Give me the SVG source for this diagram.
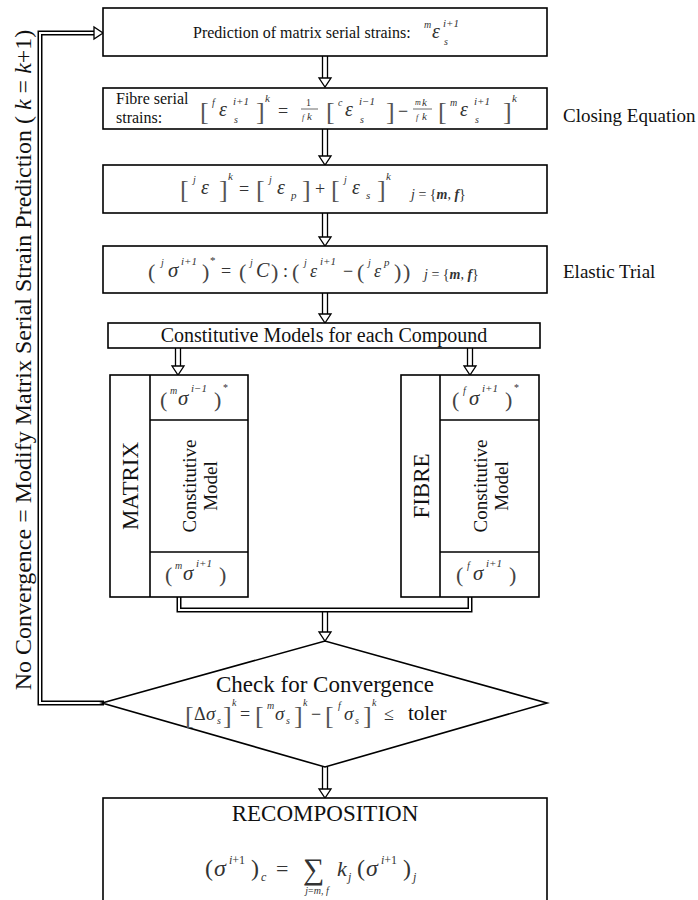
<svg xmlns="http://www.w3.org/2000/svg" width="698" height="900" viewBox="0 0 698 900">
<style>
.bx{fill:#fff;stroke:#000;stroke-width:1.6}
.t{font-family:"Liberation Serif","Times New Roman",serif;fill:#111}
.m{font-family:"Liberation Serif","Times New Roman",serif;fill:#333;font-style:italic}
.br{font-size:26px;font-style:normal;fill:#555}
.pr{font-size:22px;font-style:normal;fill:#444}
.v{font-size:20px}
.sp{font-size:11px}
.ps{font-size:10px}
.op{font-size:18px;font-style:normal}
.bi{font-weight:bold;font-style:italic}
.n{font-style:normal}
.dl1{fill:none;stroke:#000;stroke-width:5}
.dl2{fill:none;stroke:#fff;stroke-width:2}
.sh{stroke:#000;stroke-width:1.3;fill:none}
.hd{fill:#fff;stroke:#000;stroke-width:1.3;stroke-linejoin:miter}
.fl{stroke:#444;stroke-width:0.8}
</style>
<defs>
<path id="hd" class="hd" d="M-6,-9 L6,-9 L0,0 Z"/>
<path id="hr" class="hd" d="M-9,-6 L-9,6 L0,0 Z"/>
</defs>

<g id="connectors">
<path class="dl1" d="M104,703 H40 V33 H94"/>
<path class="dl2" d="M104,703 H40 V33 H94"/>
<use href="#hr" x="103" y="33"/>
<path class="sh" d="M322.5,56 V78 M327.5,56 V78"/><use href="#hd" x="325" y="87"/>
<path class="sh" d="M322.5,129 V156 M327.5,129 V156"/><use href="#hd" x="325" y="165"/>
<path class="sh" d="M322.5,213 V237 M327.5,213 V237"/><use href="#hd" x="325" y="246"/>
<path class="sh" d="M322.5,293 V314 M327.5,293 V314"/><use href="#hd" x="325" y="323"/>
<path class="sh" d="M175.5,348 V366 M180.5,348 V366"/><use href="#hd" x="178" y="375"/>
<path class="sh" d="M467.5,348 V366 M472.5,348 V366"/><use href="#hd" x="470" y="375"/>
<path class="dl1" d="M179,596 V610 H470 V596"/>
<path class="dl2" d="M179,596 V610 H470 V596"/>
<path class="sh" d="M322.5,612 V632 M327.5,612 V632"/><use href="#hd" x="325" y="641"/>
<path class="sh" d="M322.5,767 V789 M327.5,767 V789"/><use href="#hd" x="325" y="798"/>
</g>

<g id="no-convergence-label">
<text class="t" font-size="24" text-anchor="middle" transform="translate(31,360) rotate(-90)">No Convergence = Modify Matrix Serial Strain Prediction ( <tspan font-style="italic">k</tspan> = <tspan font-style="italic">k</tspan>+1)</text>
</g>

<g id="prediction">
<rect class="bx" x="103" y="8" width="444" height="48"/>
<text class="t" x="193" y="38" font-size="16">Prediction of matrix serial strains:</text>
<text class="m">
<tspan class="ps" x="424" y="28">m</tspan>
<tspan class="v" x="432" y="38">ε</tspan>
<tspan class="sp" x="443" y="27">i+1</tspan>
<tspan class="ps" x="444" y="45">s</tspan>
</text>
</g>

<g id="fibre-strains">
<rect class="bx" x="103" y="88" width="444" height="41"/>
<text class="t" x="116" y="104" font-size="16">Fibre serial</text>
<text class="t" x="116" y="123" font-size="16">strains:</text>
<text class="m">
<tspan class="br" x="200" y="120">[</tspan>
<tspan class="ps" x="212" y="106">f</tspan>
<tspan class="v" x="219" y="116">ε</tspan>
<tspan class="sp" x="233" y="105">i+1</tspan>
<tspan class="ps" x="234" y="123">s</tspan>
<tspan class="br" x="256" y="120">]</tspan>
<tspan class="sp" x="265" y="102">k</tspan>
<tspan class="op" x="278" y="117">=</tspan>
<tspan class="ps n" x="306" y="106">1</tspan>
<tspan font-size="8" x="302" y="120">f</tspan>
<tspan class="sp" x="307" y="120">k</tspan>
<tspan class="br" x="326" y="120">[</tspan>
<tspan class="ps" x="338" y="106">c</tspan>
<tspan class="v" x="345" y="116">ε</tspan>
<tspan class="sp" x="359" y="105">i−1</tspan>
<tspan class="ps" x="360" y="123">s</tspan>
<tspan class="br" x="386" y="120">]</tspan>
<tspan class="op" x="398" y="117">−</tspan>
<tspan font-size="8" x="415" y="105">m</tspan>
<tspan class="sp" x="422" y="106">k</tspan>
<tspan font-size="8" x="416" y="120">f</tspan>
<tspan class="sp" x="422" y="120">k</tspan>
<tspan class="br" x="438" y="120">[</tspan>
<tspan class="ps" x="450" y="106">m</tspan>
<tspan class="v" x="460" y="116">ε</tspan>
<tspan class="sp" x="474" y="105">i+1</tspan>
<tspan class="ps" x="475" y="123">s</tspan>
<tspan class="br" x="503" y="120">]</tspan>
<tspan class="sp" x="512" y="102">k</tspan>
</text>
<line class="fl" x1="301" y1="109" x2="318" y2="109"/>
<line class="fl" x1="413" y1="109" x2="432" y2="109"/>
</g>
<text class="t" x="563" y="122" font-size="19">Closing Equation</text>

<g id="strain-decomposition">
<rect class="bx" x="103" y="165" width="444" height="48"/>
<text class="m">
<tspan class="br" x="180" y="198">[</tspan>
<tspan class="ps" x="193" y="183">j</tspan>
<tspan class="v" x="201" y="194">ε</tspan>
<tspan class="br" x="219" y="198">]</tspan>
<tspan class="sp" x="228" y="180">k</tspan>
<tspan class="op" x="239" y="195">=</tspan>
<tspan class="br" x="256" y="198">[</tspan>
<tspan class="ps" x="269" y="183">j</tspan>
<tspan class="v" x="277" y="194">ε</tspan>
<tspan class="sp" x="291" y="199">p</tspan>
<tspan class="br" x="302" y="198">]</tspan>
<tspan class="op" x="315" y="195">+</tspan>
<tspan class="br" x="331" y="198">[</tspan>
<tspan class="ps" x="344" y="183">j</tspan>
<tspan class="v" x="352" y="194">ε</tspan>
<tspan class="sp" x="366" y="199">s</tspan>
<tspan class="br" x="377" y="198">]</tspan>
<tspan class="sp" x="386" y="180">k</tspan>
</text>
<text class="m" x="411" y="199" font-size="14">j<tspan class="n"> = {</tspan><tspan class="bi">m</tspan><tspan class="n">, </tspan><tspan class="bi">f</tspan><tspan class="n">}</tspan></text>
</g>

<g id="elastic-trial">
<rect class="bx" x="103" y="246" width="444" height="47"/>
<text class="m">
<tspan class="pr" x="148" y="279">(</tspan>
<tspan class="ps" x="161" y="266">j</tspan>
<tspan font-size="21" x="168" y="277">σ</tspan>
<tspan class="sp" x="181" y="265">i+1</tspan>
<tspan class="pr" x="202" y="279">)</tspan>
<tspan class="sp n" x="210" y="264">*</tspan>
<tspan class="op" x="221" y="277">=</tspan>
<tspan class="pr" x="239" y="279">(</tspan>
<tspan class="ps" x="250" y="266">j</tspan>
<tspan class="v" x="256" y="277">C</tspan>
<tspan class="pr" x="271" y="279">)</tspan>
<tspan class="op" x="283" y="277">:</tspan>
<tspan class="pr" x="292" y="279">(</tspan>
<tspan class="ps" x="304" y="266">j</tspan>
<tspan font-size="18" x="310" y="277">ε</tspan>
<tspan class="sp" x="320" y="265">i+1</tspan>
<tspan class="op" x="343" y="277">−</tspan>
<tspan class="pr" x="357" y="279">(</tspan>
<tspan class="ps" x="368" y="266">j</tspan>
<tspan font-size="18" x="374" y="277">ε</tspan>
<tspan class="sp" x="384" y="266">p</tspan>
<tspan class="pr" x="394" y="279">)</tspan>
<tspan class="pr" x="403" y="279">)</tspan>
</text>
<text class="m" x="424" y="279" font-size="14">j<tspan class="n"> = {</tspan><tspan class="bi">m</tspan><tspan class="n">, </tspan><tspan class="bi">f</tspan><tspan class="n">}</tspan></text>
</g>
<text class="t" x="563" y="278" font-size="19">Elastic Trial</text>

<g id="constitutive-models">
<rect class="bx" x="108" y="323" width="432" height="25"/>
<text class="t" x="324" y="342" font-size="20" text-anchor="middle">Constitutive Models for each Compound</text>
</g>

<g id="matrix">
<rect class="bx" x="110" y="375" width="138" height="222"/>
<line class="bx" x1="150" y1="375" x2="150" y2="597"/>
<line class="bx" x1="150" y1="420" x2="248" y2="420"/>
<line class="bx" x1="150" y1="552" x2="248" y2="552"/>
<text class="t" font-size="23" text-anchor="middle" transform="translate(138,486) rotate(-90)">MATRIX</text>
<text class="t" font-size="19" text-anchor="middle" transform="translate(196,486) rotate(-90)">Constitutive</text>
<text class="t" font-size="19" text-anchor="middle" transform="translate(217,486) rotate(-90)">Model</text>
<text class="m">
<tspan class="pr" x="160" y="407">(</tspan>
<tspan class="ps" x="170" y="394">m</tspan>
<tspan font-size="21" x="178" y="405">σ</tspan>
<tspan class="sp" x="191" y="392">i−1</tspan>
<tspan class="pr" x="214" y="407">)</tspan>
<tspan class="ps n" x="223" y="391">*</tspan>
<tspan class="pr" x="165" y="582">(</tspan>
<tspan class="ps" x="175" y="569">m</tspan>
<tspan font-size="21" x="183" y="580">σ</tspan>
<tspan class="sp" x="196" y="567">i+1</tspan>
<tspan class="pr" x="219" y="582">)</tspan>
</text>
</g>

<g id="fibre">
<rect class="bx" x="401" y="375" width="138" height="222"/>
<line class="bx" x1="440" y1="375" x2="440" y2="597"/>
<line class="bx" x1="440" y1="420" x2="539" y2="420"/>
<line class="bx" x1="440" y1="552" x2="539" y2="552"/>
<text class="t" font-size="23" text-anchor="middle" transform="translate(429,486) rotate(-90)">FIBRE</text>
<text class="t" font-size="19" text-anchor="middle" transform="translate(487,486) rotate(-90)">Constitutive</text>
<text class="t" font-size="19" text-anchor="middle" transform="translate(508,486) rotate(-90)">Model</text>
<text class="m">
<tspan class="pr" x="452" y="407">(</tspan>
<tspan class="ps" x="463" y="394">f</tspan>
<tspan font-size="21" x="469" y="405">σ</tspan>
<tspan class="sp" x="482" y="392">i+1</tspan>
<tspan class="pr" x="505" y="407">)</tspan>
<tspan class="ps n" x="514" y="391">*</tspan>
<tspan class="pr" x="456" y="582">(</tspan>
<tspan class="ps" x="467" y="569">f</tspan>
<tspan font-size="21" x="473" y="580">σ</tspan>
<tspan class="sp" x="486" y="567">i+1</tspan>
<tspan class="pr" x="509" y="582">)</tspan>
</text>
</g>

<g id="convergence-check">
<polygon class="bx" points="102,703 325,641 547,703 325,767"/>
<text class="t" x="325" y="692" font-size="23" text-anchor="middle">Check for Convergence</text>
<text class="m">
<tspan class="br" x="185" y="724">[</tspan>
<tspan class="op" x="194" y="720">Δ</tspan>
<tspan font-size="19" x="206" y="720">σ</tspan>
<tspan class="ps" x="217" y="724">s</tspan>
<tspan class="br" x="223" y="724">]</tspan>
<tspan class="ps" x="232" y="706">k</tspan>
<tspan class="op" x="240" y="720">=</tspan>
<tspan class="br" x="255" y="724">[</tspan>
<tspan class="ps" x="267" y="709">m</tspan>
<tspan font-size="19" x="275" y="720">σ</tspan>
<tspan class="ps" x="286" y="724">s</tspan>
<tspan class="br" x="294" y="724">]</tspan>
<tspan class="ps" x="303" y="706">k</tspan>
<tspan class="op" x="311" y="720">−</tspan>
<tspan class="br" x="325" y="724">[</tspan>
<tspan class="ps" x="338" y="709">f</tspan>
<tspan font-size="19" x="344" y="720">σ</tspan>
<tspan class="ps" x="355" y="724">s</tspan>
<tspan class="br" x="363" y="724">]</tspan>
<tspan class="ps" x="372" y="706">k</tspan>
<tspan class="op" x="384" y="720">≤</tspan>
</text>
<text class="t" x="408" y="720" font-size="21">toler</text>
</g>

<g id="recomposition">
<rect class="bx" x="103" y="798" width="444" height="106"/>
<text class="t" x="325" y="821" font-size="23" text-anchor="middle">RECOMPOSITION</text>
<text class="m">
<tspan font-size="24" font-style="normal" x="205" y="876">(</tspan>
<tspan font-size="24" x="214" y="876">σ</tspan>
<tspan font-size="12" x="229" y="864">i<tspan font-style="normal">+1</tspan></tspan>
<tspan font-size="24" font-style="normal" x="251" y="876">)</tspan>
<tspan font-size="12" x="261" y="881">c</tspan>
<tspan font-size="22" font-style="normal" x="276" y="876">=</tspan>
<tspan font-size="30" font-style="normal" x="303" y="879">∑</tspan>
<tspan font-size="22" x="337" y="876">k</tspan>
<tspan font-size="12" x="348" y="881">j</tspan>
<tspan font-size="24" font-style="normal" x="357" y="876">(</tspan>
<tspan font-size="24" x="366" y="876">σ</tspan>
<tspan font-size="12" x="381" y="864">i<tspan font-style="normal">+1</tspan></tspan>
<tspan font-size="24" font-style="normal" x="403" y="876">)</tspan>
<tspan font-size="12" x="413" y="881">j</tspan>
</text>
<text class="m" x="317" y="894" font-size="10" text-anchor="middle">j<tspan font-style="normal">=</tspan>m<tspan font-style="normal">, </tspan>f</text>
</g>
</svg>
